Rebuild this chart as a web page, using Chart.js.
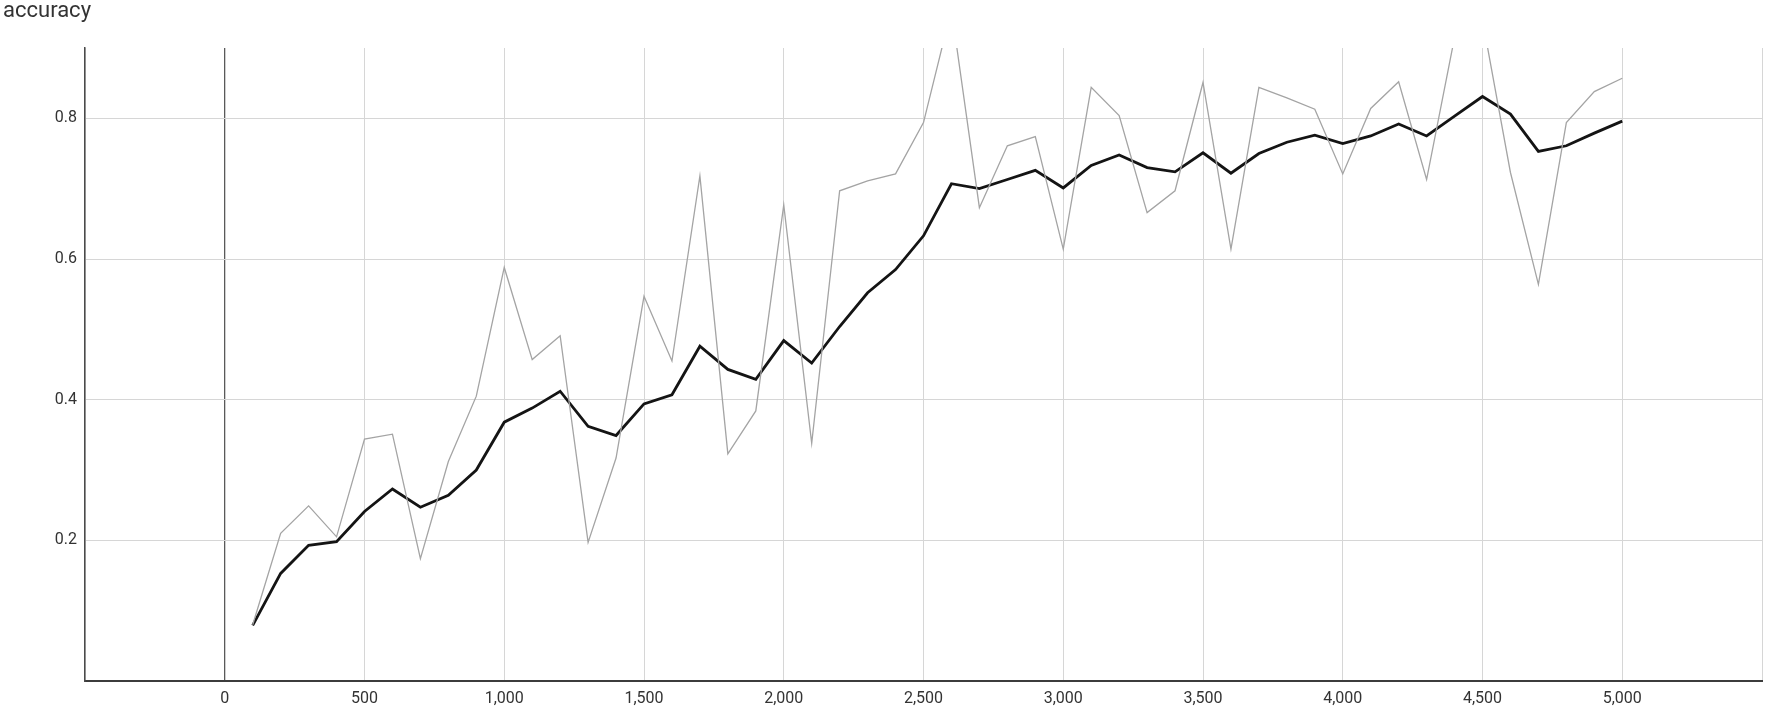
<!DOCTYPE html>
<html>
<head>
<meta charset="utf-8">
<script src="https://cdn.jsdelivr.net/npm/chart.js@4.4.1/dist/chart.umd.min.js"></script>
<style>
  html, body { margin: 0; padding: 0; background: #fff; }
  #wrap { width: 1770px; height: 710px; }
</style>
</head>
<body>
<div id="wrap"><canvas id="accuracy-chart" width="1770" height="710"></canvas></div>
<script>
// training steps
const steps = [100, 200, 300, 400, 500, 600, 700, 800, 900, 1000,
    1100, 1200, 1300, 1400, 1500, 1600, 1700, 1800, 1900, 2000,
    2100, 2200, 2300, 2400, 2500, 2600, 2700, 2800, 2900, 3000,
    3100, 3200, 3300, 3400, 3500, 3600, 3700, 3800, 3900, 4000,
    4100, 4200, 4300, 4400, 4500, 4600, 4700, 4800, 4900, 5000];

// raw accuracy (thin grey line)
const rawAccuracy = [0.080, 0.210, 0.249, 0.205, 0.344, 0.351, 0.174, 0.312, 0.405, 0.588,
    0.457, 0.491, 0.197, 0.317, 0.547, 0.455, 0.718, 0.323, 0.384, 0.677,
    0.338, 0.697, 0.711, 0.721, 0.794, 0.955, 0.673, 0.761, 0.774, 0.614,
    0.844, 0.804, 0.666, 0.697, 0.851, 0.614, 0.844, 0.829, 0.813, 0.721,
    0.814, 0.852, 0.713, 0.915, 0.940, 0.723, 0.564, 0.794, 0.838, 0.857];

// smoothed accuracy (thick black line)
const smoothedAccuracy = [0.079, 0.153, 0.193, 0.198, 0.241, 0.273, 0.247, 0.264, 0.300, 0.368,
    0.388, 0.412, 0.362, 0.349, 0.394, 0.407, 0.476, 0.443, 0.429, 0.484,
    0.452, 0.504, 0.552, 0.585, 0.633, 0.707, 0.700, 0.713, 0.726, 0.701,
    0.733, 0.748, 0.730, 0.724, 0.751, 0.722, 0.750, 0.766, 0.776, 0.764,
    0.775, 0.792, 0.775, 0.803, 0.831, 0.806, 0.753, 0.761, 0.779, 0.796];

// axis ticks
const xTicks = [-500, 0, 500, 1000, 1500, 2000, 2500, 3000, 3500, 4000, 4500, 5000, 5500];
const xLabelled = [0, 500, 1000, 1500, 2000, 2500, 3000, 3500, 4000, 4500, 5000];
const yTicks = [0.2, 0.4, 0.6, 0.8];

const toPoints = (vals) => steps.map((s, i) => ({ x: s, y: vals[i] }));

const ctx = document.getElementById("accuracy-chart").getContext("2d");
new Chart(ctx, {
    type: "line",
    data: {
        datasets: [
            {
                label: "accuracy",
                data: toPoints(rawAccuracy),
                borderColor: "#a4a4a4",
                borderWidth: 1.3,
                pointRadius: 0,
                tension: 0,
            },
            {
                label: "accuracy (smoothed)",
                data: toPoints(smoothedAccuracy),
                borderColor: "#141414",
                borderWidth: 2.8,
                pointRadius: 0,
                tension: 0,
            },
        ],
    },
    options: {
        responsive: false,
        animation: false,
        layout: { padding: { left: 3, right: 3, top: 0, bottom: 0 } },
        plugins: {
            legend: { display: false },
            tooltip: { enabled: false },
            title: {
                display: true,
                text: "accuracy",
                align: "start",
                color: "#333",
                font: { family: "Roboto", size: 22, weight: "normal", lineHeight: 1 },
                padding: { top: 0, bottom: 26 },
            },
        },
        scales: {
            x: {
                type: "linear",
                min: -500,
                max: 5500,
                afterBuildTicks: (scale) => {
                    scale.ticks = xTicks.map((v) => ({ value: v }));
                },
                afterFit: (scale) => {
                    scale.height = 29;
                },
                ticks: {
                    autoSkip: false,
                    maxRotation: 0,
                    padding: 8,
                    color: "#333",
                    font: { family: "Roboto", size: 16 },
                    callback: (v) => (xLabelled.includes(v) ? v.toLocaleString("en-US") : ""),
                },
                grid: {
                    drawTicks: false,
                    color: (c) => (c.tick && c.tick.value === 0 ? "#5a5a5a" : "#d6d6d6"),
                    lineWidth: (c) => (c.tick && c.tick.value === 0 ? 1.3 : 1),
                },
                border: { color: "#3c3c3c", width: 2 },
            },
            y: {
                min: 0,
                max: 0.9,
                afterBuildTicks: (scale) => {
                    scale.ticks = yTicks.map((v) => ({ value: v }));
                },
                afterFit: (scale) => {
                    scale.width = 82;
                },
                ticks: {
                    padding: 8,
                    color: "#333",
                    font: { family: "Roboto", size: 16 },
                    callback: (v) => v.toFixed(1),
                },
                grid: {
                    drawTicks: false,
                    color: "#d6d6d6",
                    lineWidth: 1,
                },
                border: { color: "#4a4a4a", width: 1.5 },
            },
        },
    },
});
</script>
</body>
</html>
